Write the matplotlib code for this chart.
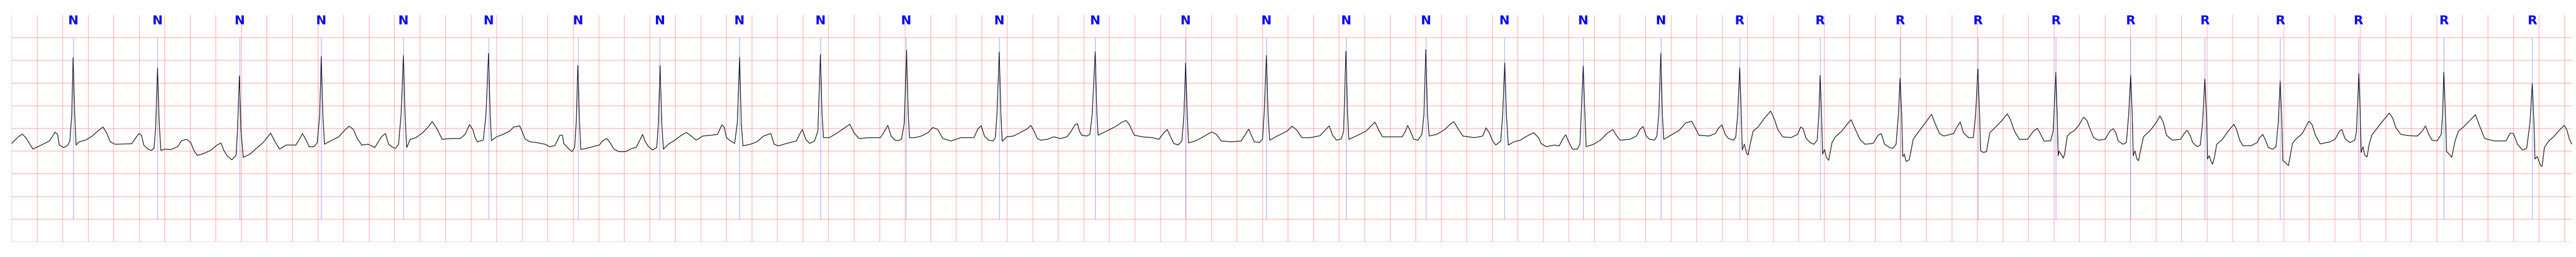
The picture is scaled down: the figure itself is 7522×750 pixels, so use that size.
import numpy as np
import matplotlib.pyplot as plt

# beat annotations: time of each labelled beat (s) and its symbol
ann_time = [0.4816, 1.1431, 1.7870, 2.4255, 3.0694, 3.7360, 4.4362, 5.0772,
            5.7003, 6.3364, 7.0085, 7.7371, 8.4885, 9.1968, 9.8302, 10.4558,
            11.0791, 11.6945, 12.3121, 12.9197, 13.5376, 14.1685, 14.7941,
            15.4042, 16.0145, 16.6004, 17.1823, 17.7720, 18.3850, 19.0543,
            19.7470]
ann_symbol = ['N', 'N', 'N', 'N', 'N', 'N', 'N', 'N', 'N', 'N',
              'N', 'N', 'N', 'N', 'N', 'N', 'N', 'N', 'N', 'N',
              'R', 'R', 'R', 'R', 'R', 'R', 'R', 'R', 'R', 'R', 'R']

# ECG trace, vertices: time (s) and amplitude (mV)
ecg_t = [
    0.000, 0.052, 0.085, 0.116, 0.167, 0.245, 0.296, 0.340, 0.360, 0.373,
    0.407, 0.438, 0.456, 0.471, 0.4815, 0.494, 0.505, 0.528, 0.579, 0.631,
    0.682, 0.716, 0.747, 0.772, 0.811, 0.940, 0.978, 0.997, 1.017, 1.035,
    1.069, 1.094, 1.115, 1.128, 1.143, 1.156, 1.169, 1.197, 1.249, 1.300,
    1.331, 1.372, 1.403, 1.429, 1.455, 1.493, 1.558, 1.609, 1.640, 1.661,
    1.687, 1.725, 1.759, 1.769, 1.7845, 1.797, 1.815, 1.867, 1.918, 1.970,
    2.001, 2.029, 2.060, 2.099, 2.150, 2.227, 2.258, 2.279, 2.310, 2.330,
    2.369, 2.395, 2.413, 2.4256, 2.438, 2.451, 2.485, 2.562, 2.614, 2.644,
    2.678, 2.704, 2.742, 2.794, 2.845, 2.897, 2.928, 2.953, 2.987, 3.008,
    3.031, 3.051, 3.0693, 3.082, 3.095, 3.123, 3.167, 3.219, 3.257, 3.296,
    3.335, 3.373, 3.437, 3.515, 3.553, 3.587, 3.613, 3.631, 3.649, 3.695,
    3.716, 3.736, 3.749, 3.759, 3.798, 3.850, 3.901,
    3.934, 3.980, 3.998, 4.024, 4.063, 4.114, 4.179, 4.217, 4.256, 4.274,
    4.295, 4.315, 4.325, 4.359, 4.390, 4.410, 4.423, 4.436, 4.449, 4.459,
    4.501, 4.552, 4.604, 4.629, 4.663, 4.688, 4.719, 4.758, 4.810, 4.861,
    4.892, 4.925, 4.943, 4.964, 4.990, 5.021, 5.054, 5.067, 5.080, 5.093,
    5.106, 5.144, 5.196, 5.247, 5.286, 5.324, 5.363, 5.415, 5.479, 5.530,
    5.564, 5.582, 5.600, 5.633, 5.664, 5.685, 5.703, 5.716, 5.729, 5.788,
    5.839, 5.891, 5.948, 5.973, 6.007, 6.071, 6.148, 6.169, 6.195, 6.221,
    6.251, 6.290, 6.316, 6.336, 6.349, 6.360, 6.406, 6.470, 6.535, 6.566,
    6.599, 6.638, 6.715, 6.805, 6.831, 6.864, 6.890, 6.921, 6.947, 6.972,
    6.993, 7.011, 7.024, 7.034, 7.075, 7.127, 7.178, 7.217, 7.256, 7.294,
    7.359, 7.436, 7.539, 7.570, 7.596, 7.621, 7.655, 7.688, 7.706, 7.719,
    7.737, 7.750, 7.760, 7.796, 7.848, 7.899,
    7.958, 7.984, 8.010, 8.035, 8.061, 8.113, 8.164, 8.216, 8.267, 8.293,
    8.332, 8.350, 8.365, 8.383, 8.422, 8.447, 8.465, 8.489, 8.502, 8.512,
    8.550, 8.602, 8.653, 8.700, 8.731, 8.756, 8.777, 8.795, 8.859, 8.937,
    8.988, 9.027, 9.053, 9.073, 9.104, 9.138, 9.168, 9.184, 9.197, 9.210,
    9.220, 9.271, 9.323, 9.400, 9.439, 9.477, 9.555, 9.632, 9.670, 9.691,
    9.709, 9.735, 9.774, 9.799, 9.812, 9.830, 9.843, 9.856, 9.915, 9.992,
    10.031, 10.070, 10.108, 10.173, 10.250, 10.289, 10.322, 10.348, 10.379, 10.417,
    10.435, 10.453, 10.466, 10.476, 10.533, 10.610, 10.649, 10.680, 10.708, 10.739,
    10.816, 10.894, 10.919, 10.937, 10.958, 10.984, 11.017, 11.048, 11.064, 11.079,
    11.092, 11.105, 11.164, 11.228, 11.267, 11.298, 11.331, 11.370, 11.460, 11.525,
    11.550, 11.576, 11.602, 11.627, 11.666, 11.681, 11.697, 11.710, 11.725, 11.769,
    11.820, 11.872, 11.924, 11.962,
    11.982, 12.021, 12.085, 12.124, 12.150, 12.175, 12.201, 12.227, 12.266, 12.286,
    12.296, 12.312, 12.325, 12.335, 12.394, 12.446, 12.497, 12.544, 12.575, 12.600,
    12.677, 12.729, 12.755, 12.781, 12.806, 12.832, 12.871, 12.889, 12.904, 12.920,
    12.932, 12.943, 12.999, 13.064, 13.115, 13.162, 13.193, 13.218, 13.296, 13.347,
    13.373, 13.399, 13.424, 13.450, 13.489, 13.507, 13.522, 13.538, 13.550, 13.558,
    13.574, 13.592, 13.604, 13.617, 13.643, 13.682, 13.733, 13.780, 13.811, 13.836,
    13.875, 13.939, 13.991, 14.016, 14.035, 14.055, 14.089, 14.119, 14.145, 14.158,
    14.168, 14.179, 14.187, 14.202, 14.217, 14.235, 14.261, 14.287, 14.338, 14.377,
    14.411, 14.441, 14.480, 14.519, 14.583, 14.622, 14.647, 14.673, 14.712, 14.738,
    14.763, 14.781, 14.794, 14.807, 14.815, 14.828, 14.841, 14.866, 14.897, 14.943,
    14.982, 15.041, 15.072, 15.103, 15.137, 15.214, 15.240, 15.265, 15.291, 15.330,
    15.368, 15.386, 15.404, 15.417, 15.425, 15.446, 15.471, 15.497, 15.536, 15.587,
    15.634, 15.659, 15.690, 15.729, 15.793, 15.839, 15.870, 15.896, 15.922, 15.973,
    15.994, 16.0145, 16.025, 16.033, 16.040,
    16.052, 16.073, 16.083, 16.104, 16.129, 16.155, 16.194, 16.232, 16.258, 16.284,
    16.310, 16.348, 16.400, 16.438, 16.464, 16.485, 16.503, 16.541, 16.567, 16.585,
    16.601, 16.613, 16.621, 16.634, 16.650, 16.662, 16.683, 16.701, 16.727, 16.760,
    16.799, 16.830, 16.856, 16.881, 16.928, 16.992, 17.025, 17.043, 17.069, 17.087,
    17.121, 17.146, 17.164, 17.182, 17.195, 17.203, 17.216, 17.231, 17.242, 17.257,
    17.275, 17.314, 17.365, 17.409, 17.430, 17.455, 17.481, 17.546, 17.592, 17.610,
    17.636, 17.654, 17.680, 17.713, 17.739, 17.757, 17.772, 17.785, 17.793, 17.811,
    17.837, 17.868, 17.893, 17.945, 17.996, 18.022, 18.048, 18.086, 18.163, 18.202,
    18.236, 18.256, 18.279, 18.318, 18.357, 18.370, 18.388, 18.400, 18.406, 18.421,
    18.434, 18.452, 18.472, 18.493, 18.524, 18.563, 18.627, 18.653, 18.679, 18.717,
    18.782, 18.846, 18.885, 18.910, 18.936, 18.962, 19.000, 19.034, 19.044, 19.054,
    19.067, 19.075, 19.091, 19.116, 19.142, 19.168, 19.207, 19.258, 19.302, 19.335,
    19.374, 19.451, 19.541, 19.574, 19.600, 19.631, 19.670, 19.703, 19.729, 19.747,
    19.760, 19.768, 19.786, 19.812, 19.824, 19.842, 19.876, 19.914, 19.953, 19.997,
    20.017, 20.038, 20.056,
]
ecg_mv = [
    -0.329, -0.184, -0.123, -0.221, -0.456, -0.347, -0.275, -0.080, -0.130, -0.365,
    -0.419, -0.376, -0.275, 0.304, 1.562, 0.304, -0.365, -0.293, -0.257, -0.166,
    -0.040, 0.033, -0.112, -0.293, -0.347, -0.336, -0.184, -0.112, -0.148, -0.365,
    -0.456, -0.484, -0.437, 0.014, 1.334, 0.123, -0.484, -0.456, -0.463, -0.401,
    -0.268, -0.239, -0.311, -0.492, -0.593, -0.564, -0.484, -0.365, -0.318, -0.474,
    -0.600, -0.691, -0.582, -0.058, 1.160, -0.058, -0.636, -0.564, -0.437, -0.311,
    -0.202, -0.101, -0.275, -0.456, -0.365, -0.365, -0.221, -0.112, -0.275, -0.401,
    -0.401, -0.311, 0.304, 1.587, 0.304, -0.347, -0.293, -0.184, -0.022, 0.051,
    -0.022, -0.202, -0.365, -0.347, -0.419, -0.184, -0.112, -0.347, -0.419, -0.437,
    -0.347, 0.304, 1.612, 0.304, -0.419, -0.239, -0.202, -0.094, 0.014, 0.152,
    -0.022, -0.239, -0.221, -0.221, -0.130, 0.087, -0.022, -0.202, -0.293, -0.257,
    0.304, 1.659, 0.304, -0.268, -0.184, -0.130, -0.058,
    0.033, 0.058, -0.058, -0.239, -0.293, -0.311, -0.347, -0.401, -0.376, -0.275,
    -0.148, -0.148, -0.329, -0.437, -0.510, -0.419, 0.123, 1.388, 0.123, -0.463,
    -0.437, -0.401, -0.365, -0.275, -0.221, -0.311, -0.456, -0.510, -0.510, -0.437,
    -0.419, -0.239, -0.130, -0.293, -0.401, -0.474, -0.419, 0.123, 1.388, 0.123,
    -0.456, -0.347, -0.257, -0.148, -0.087, -0.166, -0.257, -0.166, -0.148, -0.130,
    0.080, 0.033, -0.202, -0.275, -0.329, 0.123, 1.569, 0.123, -0.383, -0.347,
    -0.293, -0.166, -0.112, -0.347, -0.383, -0.329, -0.275, -0.148, -0.022, -0.239,
    -0.329, -0.275, -0.058, 1.634, 0.304, -0.202, -0.202, -0.094, 0.033, 0.094,
    -0.094, -0.221, -0.202, -0.202, -0.094, 0.069, -0.166, -0.257, -0.268, -0.231,
    0.123, 1.732, 0.304, -0.202, -0.202, -0.166, -0.094, 0.022, -0.022, -0.221,
    -0.275, -0.202, -0.202, -0.004, 0.058, -0.166, -0.257, -0.275, -0.202, 0.304,
    1.685, 0.304, -0.282, -0.184, -0.166, -0.094,
    -0.004, 0.069, -0.058, -0.221, -0.257, -0.239, -0.184, -0.221, -0.184, -0.094,
    0.087, 0.105, -0.058, -0.148, -0.166, -0.130, 0.304, 1.696, 0.304, -0.148,
    -0.094, -0.022, 0.051, 0.141, 0.177, 0.087, -0.040, -0.148, -0.184, -0.202,
    -0.239, -0.094, -0.022, -0.148, -0.329, -0.365, -0.275, 0.304, 1.443, 0.304,
    -0.318, -0.275, -0.202, -0.076, -0.130, -0.275, -0.293, -0.275, -0.112, -0.014,
    -0.130, -0.293, -0.311, -0.239, 0.304, 1.612, 0.304, -0.257, -0.166, -0.058,
    0.051, -0.040, -0.202, -0.202, -0.159, -0.040, 0.058, -0.148, -0.257, -0.231,
    -0.058, 1.703, 0.304, -0.239, -0.166, -0.058, 0.051, 0.141, -0.022, -0.184,
    -0.184, -0.184, -0.058, 0.069, -0.058, -0.239, -0.257, -0.130, 0.304, 1.743,
    0.304, -0.166, -0.130, -0.022, 0.087, 0.152, -0.004, -0.166, -0.202, -0.166,
    0.014, -0.094, -0.275, -0.365, -0.275, 0.304, 1.450, 0.304, -0.365, -0.293,
    -0.257, -0.166, -0.094, -0.202,
    -0.329, -0.401, -0.365, -0.383, -0.239, -0.137, -0.311, -0.456, -0.456, -0.347,
    0.304, 1.381, 0.304, -0.401, -0.347, -0.257, -0.112, -0.022, -0.166, -0.257,
    -0.239, -0.166, -0.022, 0.043, -0.166, -0.239, -0.257, -0.166, 0.304, 1.659,
    0.304, -0.239, -0.148, -0.040, 0.123, 0.159, -0.004, -0.148, -0.166, -0.112,
    0.014, 0.080, -0.130, -0.221, -0.257, -0.184, 0.304, 1.341, 0.304, -0.474,
    -0.347, -0.546, -0.582, -0.383, -0.058, 0.033, 0.231, 0.383, 0.195, -0.022,
    -0.184, -0.202, -0.130, 0.033, -0.004, -0.202, -0.311, -0.347, -0.257, 0.304,
    1.171, 0.304, -0.564, -0.463, -0.636, -0.701, -0.311, -0.184, -0.058, 0.087,
    0.195, -0.004, -0.239, -0.347, -0.329, -0.148, -0.112, -0.347, -0.419, -0.437,
    -0.347, 0.304, 1.110, 0.304, -0.618, -0.564, -0.727, -0.691, -0.239, -0.058,
    0.087, 0.311, 0.087, -0.112, -0.166, -0.112, 0.033, 0.141, -0.094, -0.202,
    -0.202, 0.304, 1.316, 0.304, -0.492, -0.528, -0.510, -0.094, 0.014, 0.159,
    0.322, 0.195, -0.058, -0.239, -0.239, -0.058, 0.004, -0.130, -0.275, -0.275,
    -0.058, 1.240, 0.304, -0.600, -0.500,
    -0.546, -0.654, -0.564, -0.166, -0.094, -0.058, 0.069, 0.249, 0.177, -0.022,
    -0.202, -0.257, -0.239, -0.058, -0.004, -0.094, -0.275, -0.347, -0.311, 0.304,
    1.171, 0.304, -0.600, -0.492, -0.672, -0.709, -0.419, -0.184, -0.112, -0.022,
    0.123, 0.275, 0.141, -0.148, -0.257, -0.239, -0.094, -0.040, -0.166, -0.311,
    -0.401, -0.365, 0.123, 1.092, 0.304, -0.672, -0.600, -0.727, -0.788, -0.636,
    -0.347, -0.257, -0.058, 0.094, -0.022, -0.257, -0.383, -0.376, -0.311, -0.202,
    -0.130, -0.239, -0.419, -0.456, -0.401, 0.123, 1.045, 0.123, -0.709, -0.745,
    -0.817, -0.329, -0.239, -0.112, 0.159, 0.087, -0.148, -0.340, -0.293, -0.239,
    -0.058, -0.022, -0.221, -0.311, -0.257, -0.058, 1.215, 0.304, -0.528, -0.401,
    -0.582, -0.629, -0.311, -0.130, -0.022, 0.123, 0.340, 0.231, 0.014, -0.130,
    -0.159, -0.166, -0.058, 0.058, -0.130, -0.257, -0.275, -0.130, 0.304, 1.244,
    0.304, -0.510, -0.546, -0.636, -0.275, -0.058, 0.033, 0.177, 0.304, 0.051,
    -0.221, -0.275, -0.275, -0.101, -0.112, -0.347, -0.474, -0.437, 0.123, 0.998,
    0.123, -0.672, -0.618, -0.817, -0.835, -0.419, -0.275, -0.184, -0.058, 0.069,
    -0.022, -0.239, -0.340,
]

fig = plt.figure(figsize=(75.22, 7.5), dpi=100)
ax = fig.add_axes([34 / 7522, 44 / 750, 7477 / 7522, 662 / 750])

ax.plot(ecg_t, ecg_mv, color='black', linewidth=1.3)

# annotation markers
for t, sym in zip(ann_time, ann_symbol):
    ax.vlines(t, -2.0, 2.0, color='blue', linewidth=0.8, alpha=0.5)
    ax.text(t, 2.5, sym, ha='center', va='top', color='blue',
            fontsize=26, fontweight='bold')

# ECG paper grid: 0.2 s x 0.5 mV
ax.set_xlim(0, 20.06)
ax.set_ylim(-2.5, 2.5)
ax.set_xticks(np.arange(0, 20.06, 0.2))
ax.set_yticks(np.arange(-2.5, 2.5, 0.5))
ax.grid(True, color='red', alpha=0.3, linewidth=1.3)
ax.tick_params(length=0, labelbottom=False, labelleft=False)
for sp in ax.spines.values():
    sp.set_visible(False)

fig.savefig('out.png', dpi=100)
